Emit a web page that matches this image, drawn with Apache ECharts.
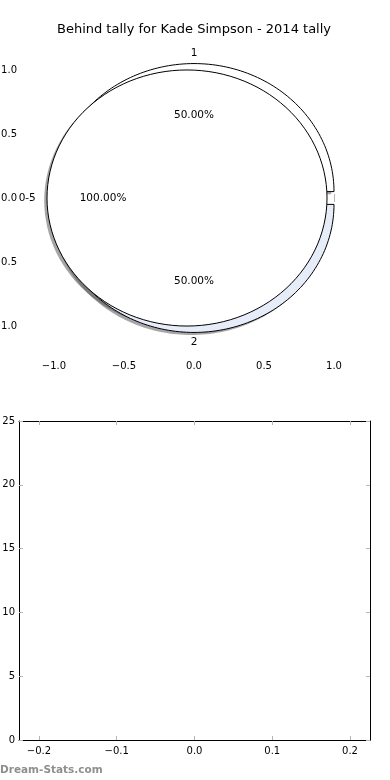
<!DOCTYPE html>
<html>
<head>
<meta charset="utf-8">
<script src="https://cdn.jsdelivr.net/npm/echarts@6/dist/echarts.min.js"></script>
<style>
html,body{margin:0;padding:0;background:#fff;}
#c{width:390px;height:780px;}
</style>
</head>
<body>
<div id="c"></div>
<script>
const chartTitle = 'Behind tally for Kade Simpson - 2014 tally';
const watermark = 'Dream-Stats.com';
// Outer pie (tally per side)
const pieALabels = ['1', '2'];
const pieAValues = [1, 1];
const pieAColors = ['#ffffff', '#e6ecf8'];
// Inner pie (margin bucket)
const pieBLabels = ['0-5'];
const pieBValues = [1];
const pieBColors = ['#ffffff'];
const pieExplode = 0.05;
// Pie axes ticks
const pieXTicks = [-1.0, -0.5, 0.0, 0.5, 1.0];
const pieYTicks = [-1.0, -0.5, 0.0, 0.5, 1.0];
// Bar panel (empty)
const barCategories = [];
const barValues = [];
const barXTicks = [-0.2, -0.1, 0.0, 0.1, 0.2];
const barYTicks = [0, 5, 10, 15, 20, 25];

const FONT = 'DejaVu Sans';
const fmt = v => { const s = (+v).toFixed(1); return (+v) < 0 ? '\u2212' + s.slice(1) : s; };

function buildWedges(values, labels, colors) {
  const total = values.reduce((a, b) => a + b, 0);
  let theta = 0;
  return values.map((v, i) => {
    const a1 = theta, a2 = theta + 2 * Math.PI * v / total;
    theta = a2;
    const mid = (a1 + a2) / 2;
    return {a1, a2, mid, dx: pieExplode * Math.cos(mid), dy: pieExplode * Math.sin(mid),
      label: labels[i], pct: (100 * v / total).toFixed(2) + '%', color: colors[i], full: v === total};
  });
}
const wedgesA = buildWedges(pieAValues, pieALabels, pieAColors);
const wedgesB = buildWedges(pieBValues, pieBLabels, pieBColors);
const allWedges = wedgesA.concat(wedgesB);

function wedgePoints(api, w, ox, oy) {
  const cx = w.dx + ox, cy = w.dy + oy;
  const pts = [];
  if (!w.full) pts.push(api.coord([cx, cy]));
  const n = 120;
  for (let i = 0; i <= n; i++) {
    const a = w.a1 + (w.a2 - w.a1) * i / n;
    pts.push(api.coord([cx + Math.cos(a), cy + Math.sin(a)]));
  }
  return pts;
}

function shapeSeries(wedges, z, shadow) {
  return {
    type: 'custom', xAxisIndex: 0, yAxisIndex: 0, z: z, silent: true,
    data: wedges.map(() => [0, 0]),
    renderItem: function (params, api) {
      const w = wedges[params.dataIndex];
      if (shadow) {
        return {type: 'polygon', shape: {points: wedgePoints(api, w, -0.02, -0.02)},
          style: {fill: 'rgba(77,77,77,0.5)', stroke: 'none'}};
      }
      return {type: 'polygon', shape: {points: wedgePoints(api, w, 0, 0)},
        style: {fill: w.color, stroke: '#000', lineWidth: 1}};
    }
  };
}

const labelDistance = 1.08;
const pctDistance = 0.6;
const labelSeries = {
  type: 'custom', xAxisIndex: 0, yAxisIndex: 0, z: 10, silent: true,
  data: allWedges.map(() => [0, 0]),
  renderItem: function (params, api) {
    const w = allWedges[params.dataIndex];
    const xt = w.dx + labelDistance * Math.cos(w.mid), yt = w.dy + labelDistance * Math.sin(w.mid);
    const p1 = api.coord([xt, yt]);
    const align = Math.abs(xt) < 1e-6 ? 'center' : (xt > 0 ? 'left' : 'right');
    const p2 = api.coord([w.dx + pctDistance * Math.cos(w.mid), w.dy + pctDistance * Math.sin(w.mid)]);
    return {type: 'group', children: [
      {type: 'text', style: {x: p1[0], y: p1[1], text: w.label, textAlign: align, textVerticalAlign: 'middle', font: '10.5px "' + FONT + '"', fill: '#000'}},
      {type: 'text', style: {x: p2[0], y: p2[1], text: w.pct, textAlign: 'center', textVerticalAlign: 'middle', font: '10.5px "' + FONT + '"', fill: '#000'}}
    ]};
  }
};

const tickStyle = {color: '#b5b5b5', width: 1};
function axisCommon(extra) {
  return Object.assign({type: 'value', splitLine: {show: false}}, extra);
}

const option = {
  animation: false,
  backgroundColor: '#fff',
  textStyle: {fontFamily: FONT},
  grid: [
    {left: 22, right: 20, top: 40, bottom: 424, containLabel: false, outerBoundsMode: 'none'},
    {left: 19, right: 20, top: 421, bottom: 40, containLabel: false, outerBoundsMode: 'none'}
  ],
  xAxis: [
    axisCommon({gridIndex: 0, position: 'bottom', min: -1.2286, max: 1.2571,
      axisLine: {show: false},
      axisTick: {show: true, inside: true, length: 4, lineStyle: tickStyle, customValues: pieXTicks},
      axisLabel: {customValues: pieXTicks, formatter: fmt, fontSize: 10, color: '#000', margin: 5, fontFamily: FONT}}),
    axisCommon({gridIndex: 0, position: 'top', min: -1.2286, max: 1.2571,
      axisLine: {show: false},
      axisTick: {show: true, inside: true, length: 4, lineStyle: tickStyle, customValues: pieXTicks},
      axisLabel: {show: false}}),
    axisCommon({gridIndex: 1, position: 'bottom', min: -0.2257, max: 0.2257,
      axisLine: {show: true, onZero: false, lineStyle: {color: '#000', width: 1}},
      axisTick: {show: true, inside: true, length: 4, lineStyle: tickStyle, customValues: barXTicks},
      axisLabel: {customValues: barXTicks, formatter: fmt, fontSize: 10, color: '#000', margin: 6, fontFamily: FONT}}),
    axisCommon({gridIndex: 1, position: 'top', min: -0.2257, max: 0.2257,
      axisLine: {show: true, onZero: false, lineStyle: {color: '#000', width: 1}},
      axisTick: {show: true, inside: true, length: 4, lineStyle: tickStyle, customValues: barXTicks},
      axisLabel: {show: false}})
  ],
  yAxis: [
    axisCommon({gridIndex: 0, position: 'left', min: -1.234, max: 1.234,
      axisLine: {show: false},
      axisTick: {show: true, inside: true, length: 4, lineStyle: tickStyle, customValues: pieYTicks},
      axisLabel: {customValues: pieYTicks, formatter: fmt, fontSize: 10, color: '#000', margin: 5, fontFamily: FONT}}),
    axisCommon({gridIndex: 0, position: 'right', min: -1.234, max: 1.234,
      axisLine: {show: false},
      axisTick: {show: true, inside: true, length: 4, lineStyle: tickStyle, customValues: pieYTicks},
      axisLabel: {show: false}}),
    axisCommon({gridIndex: 1, position: 'left', min: 0, max: 25, interval: 5,
      axisLine: {show: true, onZero: false, lineStyle: {color: '#000', width: 1}},
      axisTick: {show: true, inside: true, length: 4, lineStyle: tickStyle, customValues: barYTicks},
      axisLabel: {customValues: barYTicks, fontSize: 10, color: '#000', margin: 4, fontFamily: FONT}}),
    axisCommon({gridIndex: 1, position: 'right', min: 0, max: 25, interval: 5,
      axisLine: {show: true, onZero: false, lineStyle: {color: '#000', width: 1}},
      axisTick: {show: true, inside: true, length: 4, lineStyle: tickStyle, customValues: barYTicks},
      axisLabel: {show: false}})
  ],
  graphic: [
    {type: 'text', x: 194, y: 30, style: {text: chartTitle, font: '13px "' + FONT + '"', fill: '#000', textAlign: 'center', textVerticalAlign: 'middle'}},
    {type: 'text', x: 0, y: 770, style: {text: watermark, font: 'bold 10.5px "' + FONT + '"', fill: '#8f8f8f', textAlign: 'left', textVerticalAlign: 'middle'}}
  ],
  series: [
    shapeSeries(wedgesA, 1, true),
    shapeSeries(wedgesB, 1, true),
    shapeSeries(wedgesA, 2, false),
    shapeSeries(wedgesB, 3, false),
    labelSeries,
    {type: 'bar', xAxisIndex: 2, yAxisIndex: 2, data: barCategories.map((c, i) => [i, barValues[i]])}
  ]
};

const chart = echarts.init(document.getElementById('c'), null, {renderer: 'canvas'});
chart.setOption(option);
</script>
</body>
</html>
